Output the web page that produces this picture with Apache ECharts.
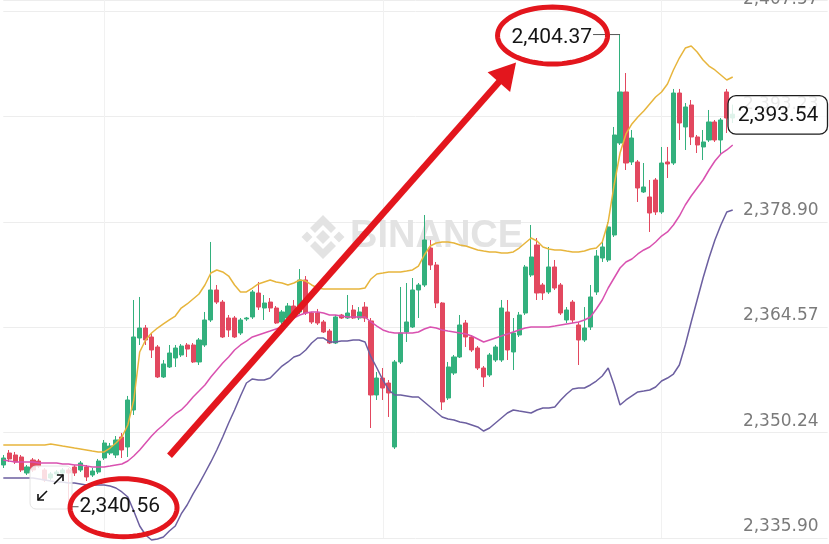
<!DOCTYPE html>
<html><head><meta charset="utf-8">
<script src="https://cdn.jsdelivr.net/npm/echarts/dist/echarts.min.js"></script>
<style>html,body{margin:0;padding:0;background:#fff}#c{width:829px;height:544px}</style>
</head><body><div id="c"></div>
<script>
// ---------------- data ----------------
const SLOT_COUNT = 140; // candle slots incl. empty right margin
const categories = Array.from({length: SLOT_COUNT}, (_, i) => String(i));

// [open, close, low, high]
const candles = [
[2345.83,2346.78,2345.42,2347.19],[2347.46,2346.65,2346.24,2347.87],[2347.19,2346.24,2345.97,2347.60],[2346.92,2345.15,2344.88,2347.19],
[2344.74,2345.56,2344.47,2345.83],[2346.51,2345.15,2344.88,2346.78],[2346.37,2345.69,2345.42,2346.65],[2345.15,2343.79,2343.52,2345.42],
[2344.06,2344.61,2343.79,2344.88],[2344.61,2344.88,2344.33,2345.15],[2344.74,2345.15,2344.33,2345.42],[2345.15,2344.74,2340.56,2345.42],
[2345.56,2344.74,2344.33,2345.83],[2345.15,2346.10,2344.88,2346.37],[2345.56,2344.20,2343.65,2345.83],[2344.47,2345.01,2344.20,2345.42],
[2344.88,2346.37,2344.61,2346.65],[2346.78,2348.82,2346.51,2349.23],[2347.46,2348.41,2347.19,2348.82],[2347.19,2349.23,2346.78,2349.77],
[2349.64,2347.87,2346.78,2350.18],[2348.28,2354.67,2346.92,2355.22],[2353.31,2363.24,2352.63,2368.27],[2363.10,2364.46,2362.15,2368.68],
[2364.46,2362.83,2362.15,2364.87],[2363.24,2361.47,2360.38,2363.78],[2361.88,2357.80,2357.66,2362.15],[2357.80,2359.57,2357.66,2360.11],
[2359.16,2361.06,2359.02,2362.15],[2360.38,2361.74,2359.16,2362.15],[2360.79,2362.01,2360.52,2362.28],[2362.15,2361.60,2360.52,2362.42],
[2362.15,2359.84,2359.70,2362.42],[2359.84,2362.83,2359.43,2363.10],[2362.15,2365.55,2361.88,2366.64],[2365.55,2369.63,2365.28,2376.16],
[2369.63,2367.99,2367.72,2370.31],[2367.99,2363.24,2363.10,2368.27],[2365.82,2364.19,2363.24,2366.23],[2365.82,2363.24,2363.10,2366.09],
[2363.78,2365.55,2363.51,2365.82],[2365.69,2365.82,2365.42,2365.96],[2365.96,2369.36,2365.69,2369.63],[2369.22,2367.31,2366.91,2370.72],
[2367.18,2367.86,2365.55,2368.95],[2367.99,2367.18,2366.64,2368.54],[2367.18,2365.14,2365.01,2367.45],[2365.28,2366.64,2365.01,2366.91],
[2365.82,2367.45,2365.55,2367.86],[2367.45,2366.09,2365.82,2368.27],[2366.64,2370.99,2366.37,2372.48],[2370.99,2366.50,2366.23,2371.53],
[2366.50,2365.28,2365.01,2366.64],[2366.50,2365.14,2364.87,2367.05],[2365.28,2363.92,2363.78,2365.55],[2364.05,2362.42,2362.28,2364.33],
[2362.42,2365.96,2362.28,2366.23],[2366.23,2365.82,2365.69,2366.37],[2365.82,2366.50,2365.69,2368.95],[2366.91,2365.82,2365.69,2367.59],
[2365.82,2366.64,2365.55,2367.31],[2367.31,2365.82,2365.28,2367.99],[2365.42,2355.35,2350.86,2365.82],[2355.35,2357.66,2354.67,2358.48],
[2357.66,2356.30,2354.67,2359.02],[2356.98,2355.62,2352.36,2357.39],[2348.28,2359.84,2348.01,2360.11],[2359.84,2363.78,2359.57,2370.04],
[2363.92,2365.28,2362.56,2370.58],[2364.60,2369.63,2364.46,2371.26],[2369.63,2370.31,2365.82,2370.58],[2370.31,2376.43,2370.04,2379.83],
[2375.34,2373.03,2372.35,2376.43],[2373.03,2367.86,2367.18,2373.44],[2367.86,2354.40,2353.31,2367.99],[2354.94,2359.16,2354.67,2359.84],
[2358.34,2360.52,2358.07,2360.79],[2360.52,2364.87,2360.38,2366.23],[2365.14,2363.24,2361.88,2365.55],[2363.24,2361.47,2361.20,2363.51],
[2361.74,2359.02,2358.75,2362.01],[2359.02,2357.80,2356.44,2359.29],[2358.07,2360.79,2357.80,2361.06],[2360.11,2361.88,2359.84,2362.15],
[2360.11,2367.18,2359.84,2368.27],[2366.64,2361.47,2360.11,2368.27],[2361.20,2363.78,2358.75,2365.82],[2363.51,2366.23,2363.24,2366.64],
[2366.50,2372.76,2366.23,2373.03],[2371.67,2374.12,2371.40,2378.47],[2375.75,2369.22,2368.27,2376.70],[2370.31,2369.22,2368.27,2370.58],
[2369.36,2372.76,2369.09,2375.48],[2372.76,2369.90,2369.63,2373.71],[2370.31,2366.50,2366.23,2370.58],[2365.55,2366.91,2365.14,2367.31],
[2367.99,2365.55,2365.14,2368.27],[2364.87,2362.83,2359.43,2365.28],[2362.83,2364.46,2362.56,2367.31],[2364.60,2368.68,2364.19,2370.31],
[2369.36,2374.25,2368.95,2375.07],[2373.98,2375.48,2373.44,2376.43],[2373.71,2378.20,2373.44,2378.88],[2377.11,2390.71,2376.84,2391.80],
[2389.62,2396.56,2389.35,2404.37],[2396.56,2386.90,2385.95,2399.14],[2387.04,2390.30,2386.63,2391.39],[2387.04,2383.50,2381.60,2387.31],
[2382.96,2383.64,2382.82,2386.90],[2382.28,2380.10,2377.52,2384.59],[2384.59,2380.24,2379.83,2384.86],[2380.24,2386.90,2379.97,2389.08],
[2387.04,2386.77,2384.86,2389.08],[2386.90,2396.42,2386.63,2396.97],[2396.42,2392.34,2390.03,2396.97],[2391.80,2394.52,2388.67,2395.06],
[2394.79,2390.44,2389.35,2395.47],[2390.44,2389.35,2388.26,2390.71],[2389.08,2389.76,2387.31,2391.39],[2390.03,2392.48,2389.76,2394.11],
[2392.48,2390.03,2389.76,2392.75],[2390.03,2392.75,2387.99,2393.02],[2396.56,2393.02,2390.98,2396.97],[2393.02,2393.54,2392.34,2394.84]
];

const bollUpper = [
2348.55,2348.55,2348.55,2348.55,2348.55,2348.55,2348.55,2348.55,
2348.69,2348.55,2348.41,2348.28,2348.14,2348.01,2347.87,2347.73,
2347.60,2347.60,2348.14,2348.82,2349.64,2351.27,2354.67,2361.20,
2362.83,2363.78,2364.46,2365.01,2365.55,2366.09,2367.18,2367.73,
2368.41,2369.09,2370.31,2371.94,2372.35,2372.08,2371.53,2370.31,
2369.36,2369.36,2369.90,2370.45,2370.72,2370.99,2370.72,2370.58,
2370.31,2370.58,2370.99,2370.85,2370.31,2369.90,2369.77,2369.77,
2369.77,2369.77,2369.77,2369.77,2369.77,2369.90,2371.13,2371.81,
2371.94,2372.08,2372.08,2372.08,2372.21,2372.35,2372.89,2374.39,
2375.61,2376.02,2376.16,2376.16,2376.02,2375.75,2375.61,2375.34,
2375.07,2374.93,2374.80,2374.80,2374.66,2374.66,2374.80,2375.34,
2376.02,2376.70,2376.29,2375.48,2375.21,2375.07,2375.07,2374.93,
2374.80,2374.80,2374.93,2375.21,2375.34,2376.16,2378.88,2383.91,
2388.26,2390.85,2392.21,2393.16,2393.97,2394.93,2395.88,2396.56,
2397.65,2399.55,2401.18,2402.54,2402.81,2402.00,2400.91,2400.09,
2399.55,2398.87,2398.19,2398.60
];
const bollMid = [
2346.51,2346.37,2346.24,2346.24,2346.24,2346.24,2346.10,2346.10,
2346.10,2346.10,2345.97,2345.97,2345.83,2345.83,2345.69,2345.56,
2345.56,2345.56,2345.69,2345.83,2345.97,2346.37,2347.05,2347.87,
2348.82,2349.77,2350.59,2351.27,2352.09,2352.77,2353.31,2354.13,
2355.08,2355.89,2356.71,2357.80,2358.75,2359.70,2360.52,2361.47,
2362.15,2362.69,2363.24,2363.51,2363.78,2364.05,2364.33,2364.60,
2365.28,2365.82,2366.23,2366.50,2366.64,2366.64,2366.50,2366.23,
2366.23,2366.09,2365.96,2365.96,2365.96,2365.96,2365.28,2364.73,
2364.19,2363.92,2363.78,2363.78,2363.78,2363.78,2363.92,2364.33,
2364.60,2364.46,2364.19,2364.05,2363.92,2363.78,2363.65,2363.37,
2362.97,2362.56,2362.83,2363.10,2363.37,2363.65,2363.92,2364.19,
2364.46,2364.60,2364.60,2364.60,2364.60,2364.73,2364.87,2365.01,
2365.14,2365.28,2365.55,2365.96,2367.05,2368.27,2369.90,2371.26,
2372.62,2373.44,2373.85,2374.53,2375.07,2375.48,2376.16,2376.97,
2377.52,2378.47,2379.69,2381.19,2382.41,2383.50,2384.59,2385.95,
2387.17,2388.13,2388.67,2389.35
];
const bollLower = [
2344.06,2344.06,2344.06,2344.06,2344.06,2344.06,2343.93,2343.79,
2343.65,2343.52,2343.52,2343.38,2343.38,2343.25,2343.11,2343.11,
2343.11,2343.11,2342.97,2342.70,2342.16,2341.48,2339.57,2337.53,
2336.31,2335.63,2335.77,2336.04,2336.85,2337.53,2339.17,2340.39,
2341.89,2343.25,2344.74,2346.24,2347.87,2349.64,2351.54,2353.31,
2355.22,2356.98,2357.53,2357.39,2357.39,2357.66,2358.48,2359.29,
2359.84,2360.52,2360.79,2361.47,2362.42,2363.10,2363.10,2362.56,
2362.56,2362.69,2362.69,2362.83,2362.83,2362.56,2360.52,2359.02,
2357.39,2356.03,2355.35,2355.35,2355.22,2355.08,2355.08,2354.40,
2353.72,2353.04,2352.36,2352.09,2351.95,2351.68,2351.54,2351.27,
2351.00,2350.45,2350.86,2351.54,2352.22,2352.90,2353.31,2353.17,
2353.04,2352.90,2353.31,2353.58,2353.58,2353.72,2354.67,2355.49,
2356.17,2356.30,2356.30,2356.71,2357.25,2357.93,2359.02,2356.71,
2353.99,2354.67,2355.22,2355.76,2355.89,2356.03,2356.44,2357.25,
2357.66,2358.20,2359.43,2362.15,2365.28,2368.27,2371.26,2373.98,
2376.43,2378.47,2380.24,2380.51
];

const yTickLabels = ['2,335.90','2,350.24','2,364.57','2,378.90','2,393.23','2,407.57'];
const Y_MIN = 2335.90, Y_MAX = 2409.07, Y_INT = 14.334;
const watermarkText = 'BINANCE';

// ---------------- styles ----------------
const UP = '#33b07d', DOWN = '#e2485f';
const ANNOT = '#e3161d';

const chart = echarts.init(document.getElementById('c'), null, {renderer: 'canvas'});

chart.setOption({
  animation: false,
  backgroundColor: '#ffffff',
  grid: {left: 3.3, right: 1.4, top: 0, bottom: 6, containLabel: false, outerBoundsMode: 'none'},
  xAxis: {
    type: 'category', data: categories, boundaryGap: false,
    axisLine: {show: false}, axisTick: {show: false}, axisLabel: {show: false},
    splitLine: {show: true, interval: (i) => i >= 17 && (i - 17) % 47 === 0,
                lineStyle: {color: '#f1f1f1', width: 1}}
  },
  yAxis: {
    type: 'value', position: 'right', min: Y_MIN, max: Y_MAX, interval: Y_INT,
    axisLine: {show: false}, axisTick: {show: false},
    splitLine: {show: true, lineStyle: {color: '#ededed', width: 1}},
    axisLabel: {
      inside: true, margin: 9, color: '#7b7b7b', fontSize: 17, fontFamily: 'DejaVu Sans',
      verticalAlign: 'bottom', padding: [0, 0, 3, 0],
      formatter: (v) => {
        const k = Math.round((v - Y_MIN) / Y_INT);
        if (k < 0 || k >= yTickLabels.length) return '';
        if (Math.abs(v - (Y_MIN + k * Y_INT)) > 0.01) return '';
        return yTickLabels[k];
      }
    }
  },
  series: [
    {type: 'candlestick', data: candles, barWidth: 4.6, clip: false, z: 2,
     itemStyle: {color: UP, color0: DOWN, borderColor: UP, borderColor0: DOWN, borderWidth: 1}},
    {type: 'line', data: bollUpper, showSymbol: false, symbol: 'none', clip: false, z: 3,
     lineStyle: {color: '#e7b53c', width: 1.5}},
    {type: 'line', data: bollMid, showSymbol: false, symbol: 'none', clip: false, z: 3,
     lineStyle: {color: '#d951b0', width: 1.5}},
    {type: 'line', data: bollLower, showSymbol: false, symbol: 'none', clip: false, z: 3,
     lineStyle: {color: '#6c5fa0', width: 1.5}}
  ]
});

// ---------------- overlays ----------------
function fmt(v) {
  const s = v.toFixed(2).split('.');
  return s[0].replace(/\B(?=(\d{3})+(?!\d))/g, ',') + '.' + s[1];
}
function ellipsePts(cx, cy, rx, ry) {
  const pts = [];
  for (let k = 0; k < 72; k++) {
    const t = k / 72 * Math.PI * 2;
    pts.push([cx + rx * Math.cos(t), cy + ry * Math.sin(t)]);
  }
  return pts;
}
let iMax = 0, iMin = 0;
candles.forEach((c, i) => { if (c[3] > candles[iMax][3]) iMax = i; if (c[2] < candles[iMin][2]) iMin = i; });
const maxHigh = candles[iMax][3], minLow = candles[iMin][2];
const lastIdx = candles.length - 1, lastClose = candles[lastIdx][1];
const toPx = (i, v) => chart.convertToPixel({gridIndex: 0}, [i, v]);
const [mx, my] = toPx(iMax, maxHigh);
const [nx, ny] = toPx(iMin, minLow);
const [, py] = toPx(lastIdx, lastClose);

const labelFont = {fontSize: 21, fontFamily: 'Roboto', fill: '#151515'};
const g = [];

// watermark
const wx = 323, wy = 237, wc = '#e3e3e3';
const dia = (cx, cy, r) => [[cx, cy - r], [cx + r, cy], [cx, cy + r], [cx - r, cy]];
g.push({type: 'polygon', z: 1, shape: {points: dia(wx, wy, 7)}, style: {fill: wc}});
g.push({type: 'polygon', z: 1, shape: {points: dia(wx - 16, wy, 5.5)}, style: {fill: wc}});
g.push({type: 'polygon', z: 1, shape: {points: dia(wx + 16, wy, 5.5)}, style: {fill: wc}});
g.push({type: 'polygon', z: 1, shape: {points: [[wx, wy - 22], [wx + 13, wy - 9], [wx + 8, wy - 4], [wx, wy - 12], [wx - 8, wy - 4], [wx - 13, wy - 9]]}, style: {fill: wc}});
g.push({type: 'polygon', z: 1, shape: {points: [[wx, wy + 22], [wx + 13, wy + 9], [wx + 8, wy + 4], [wx, wy + 12], [wx - 8, wy + 4], [wx - 13, wy + 9]]}, style: {fill: wc}});
g.push({type: 'text', z: 1, style: {text: watermarkText, x: 350, y: wy, fill: wc, fontSize: 38, fontWeight: 'bold',
  fontFamily: 'Liberation Sans', align: 'left', verticalAlign: 'middle', textAlign: 'left', textVerticalAlign: 'middle'}});

// expand icon box
g.push({type: 'rect', z: 50, shape: {x: 30, y: 466, width: 42, height: 43, r: 6},
  style: {fill: 'rgba(255,255,255,0.82)', stroke: '#e4e4e4', lineWidth: 1}});
g.push({type: 'polyline', z: 51, shape: {points: [[47, 491], [38, 500]]}, style: {stroke: '#111', lineWidth: 1.6, fill: null}});
g.push({type: 'polyline', z: 51, shape: {points: [[38, 494], [38, 500], [44, 500]]}, style: {stroke: '#111', lineWidth: 1.6, fill: null}});
g.push({type: 'polyline', z: 51, shape: {points: [[54, 484], [63, 475]]}, style: {stroke: '#111', lineWidth: 1.6, fill: null}});
g.push({type: 'polyline', z: 51, shape: {points: [[57, 475], [63, 475], [63, 481]]}, style: {stroke: '#111', lineWidth: 1.6, fill: null}});

// max label
g.push({type: 'line', z: 60, shape: {x1: mx, y1: my, x2: mx - 27, y2: my}, style: {stroke: '#555', lineWidth: 1}});
g.push({type: 'text', z: 60, style: Object.assign({text: fmt(maxHigh), x: mx - 28, y: my + 3,
  align: 'right', verticalAlign: 'middle', textAlign: 'right', textVerticalAlign: 'middle'}, labelFont)});
// min label
g.push({type: 'line', z: 60, shape: {x1: nx, y1: ny + 3, x2: nx + 10, y2: ny + 3}, style: {stroke: '#555', lineWidth: 1}});
g.push({type: 'text', z: 60, style: Object.assign({text: fmt(minLow), x: nx + 11, y: ny + 3.5,
  align: 'left', verticalAlign: 'middle', textAlign: 'left', textVerticalAlign: 'middle'}, labelFont)});

// ellipses
g.push({type: 'polygon', z: 70, shape: {points: ellipsePts(mx - 67.5, my + 1, 55, 28.5)},
  style: {fill: null, stroke: ANNOT, lineWidth: 5}});
g.push({type: 'polygon', z: 70, shape: {points: ellipsePts(nx + 55, ny + 4, 53.5, 29)},
  style: {fill: null, stroke: ANNOT, lineWidth: 5}});

// arrow
const sx = nx + 101, sy = ny - 48, tx = mx - 104, ty = my + 28;
const dx = tx - sx, dy = ty - sy, len = Math.hypot(dx, dy), ux = dx / len, uy = dy / len;
const bx = tx - 26 * ux, by = ty - 26 * uy;
g.push({type: 'line', z: 70, shape: {x1: sx, y1: sy, x2: bx + 3 * ux, y2: by + 3 * uy}, style: {stroke: ANNOT, lineWidth: 6.5}});
g.push({type: 'polygon', z: 70, shape: {points: [[tx, ty], [bx - 15 * uy, by + 15 * ux], [bx + 15 * uy, by - 15 * ux]]},
  style: {fill: ANNOT}});

// last price box
g.push({type: 'rect', z: 80, shape: {x: 728, y: py - 18.5, width: 99.5, height: 38.5, r: 8},
  style: {fill: 'rgba(255,255,255,0.84)', stroke: '#1d1d1d', lineWidth: 1.3}});
g.push({type: 'text', z: 81, style: Object.assign({text: fmt(lastClose), x: 778, y: py + 1.5,
  align: 'center', verticalAlign: 'middle', textAlign: 'center', textVerticalAlign: 'middle'}, labelFont)});

chart.setOption({graphic: {elements: g}});
</script>
</body></html>
